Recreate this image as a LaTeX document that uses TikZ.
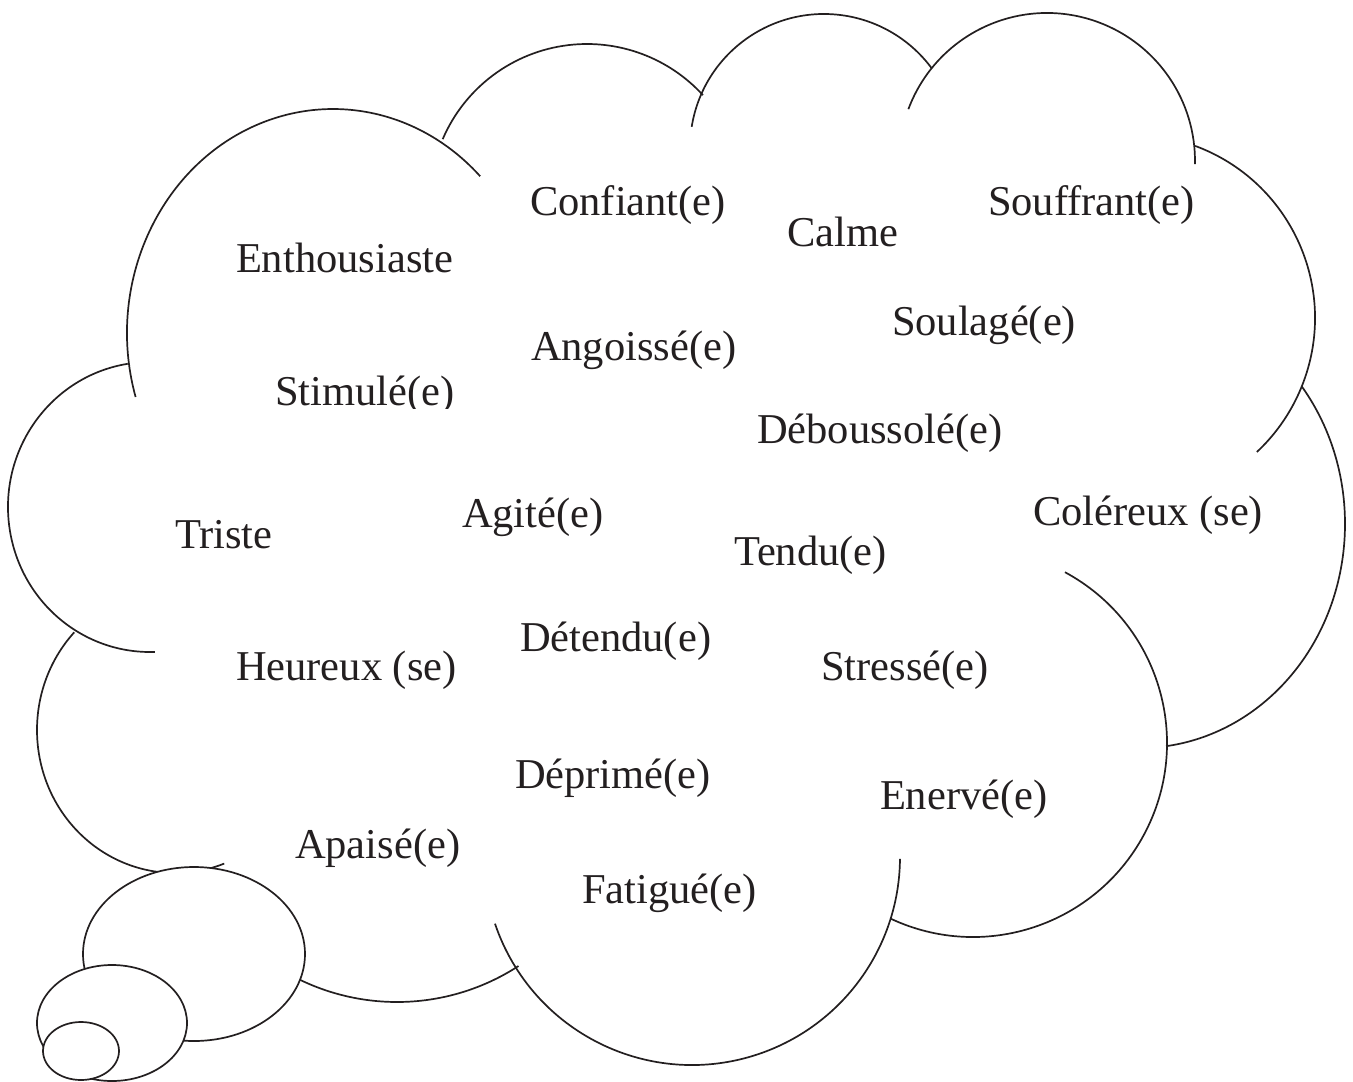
\documentclass[tikz,border=0pt]{standalone}
\usepackage{fontspec}
\setmainfont{Liberation Serif}
\definecolor{ink}{HTML}{231F20}
\newcommand\cloudArc[6]{\draw[cloudline] ([shift={(#5:#3 and #4)}]#1,#2) arc[start angle=#5, end angle=#6, x radius=#3, y radius=#4];}
\begin{document}
\begin{tikzpicture}[x=1pt,y=1pt,yscale=-1,
  cloudline/.style={draw=ink, line width=1.7pt},
  bubble/.style={draw=ink, fill=white, line width=1.7pt},
  word/.style={anchor=base west, inner sep=0pt, outer sep=0pt, text=ink, font=\fontsize{42.5}{50}\selectfont}]
\useasboundingbox (0,0) rectangle (1353,1082);
% cloud outline arcs
\cloudArc{333}{333}{206}{224}{163.4}{315.6}
\cloudArc{587}{201}{157}{157}{203.2}{317.6}
\cloudArc{824}{148}{134}{134}{189.1}{323.6}
\cloudArc{1047}{161}{148}{148}{200.5}{361.2}
\cloudArc{1131.5}{318}{183.5}{183.5}{290.3}{406.9}
\cloudArc{1140}{524}{205}{224}{-37.9}{82.7}
\cloudArc{973}{743}{194}{194}{-61.7}{115}
\cloudArc{692}{857}{208}{208}{161.3}{0.5}
\cloudArc{397}{779}{223}{223}{125}{57}
\cloudArc{175}{730}{138}{143}{223.1}{69.1}
\cloudArc{150}{507}{142}{145}{261}{88}
% thought bubbles
\draw[bubble] (194,954) ellipse [x radius=111, y radius=87];
\draw[bubble] (112,1023) ellipse [x radius=75, y radius=58];
\draw[bubble] (81,1051) ellipse [x radius=38, y radius=29];
% words
\node[word] (confiant) at (530,215) {Confiant(e)};
\node[word] (calme) at (787,246) {Calme};
\node[word] (souffrant) at (988,215) {Souffrant(e)};
\node[word] (enthou) at (236,272) {Enthousiaste};
\node[word] (soulage) at (892,335) {Soulagé(e)};
\node[word] (angoisse) at (531,360) {Angoissé(e)};
\begin{scope}
\clip (260,360) rectangle (480,408);
\node[word] (stimule) at (275,405) {Stimulé(e)};
\end{scope}
\node[word] (debous) at (757,443) {Déboussolé(e)};
\node[word] (triste) at (175,548) {Triste};
\node[word] (agite) at (462,527) {Agité(e)};
\node[word] (colereux) at (1033,525) {Coléreux (se)};
\node[word] (tendu) at (734,565) {Tendu(e)};
\node[word] (detendu) at (520,651) {Détendu(e)};
\node[word] (heureux) at (236,680) {Heureux (se)};
\node[word] (stresse) at (821,680) {Stressé(e)};
\node[word] (deprime) at (515,788) {Déprimé(e)};
\node[word] (enerve) at (880,809) {Enervé(e)};
\node[word] (apaise) at (295,858) {Apaisé(e)};
\node[word] (fatigue) at (582,903) {Fatigué(e)};
\end{tikzpicture}
\end{document}
